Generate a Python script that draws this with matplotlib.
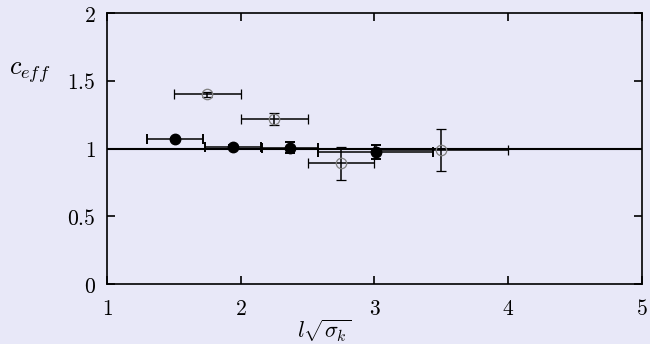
import numpy as np
import matplotlib

matplotlib.use("Agg")
import matplotlib.pyplot as plt
from matplotlib.ticker import FuncFormatter

plt.rcParams["mathtext.fontset"] = "cm"
plt.rcParams["font.family"] = "serif"
plt.rcParams["font.serif"] = ["DejaVu Serif"]

bg = "#e8e8f8"

# filled circles
x_full = [1.51, 1.94, 2.37, 3.01]
y_full = [1.07, 1.013, 1.006, 0.975]
xerr_full = [0.21, 0.21, 0.21, 0.43]
yerr_full = [0.01, 0.01, 0.04, 0.05]

# open circles
x_open = [1.75, 2.25, 2.75, 3.5]
y_open = [1.40, 1.215, 0.89, 0.99]
xerr_open = [0.25, 0.25, 0.25, 0.5]
yerr_open = [0.02, 0.045, 0.12, 0.155]

xticks = [1, 2, 3, 4, 5]
yticks = [0, 0.5, 1, 1.5, 2]

fig = plt.figure(figsize=(6.5, 3.44), dpi=100, facecolor=bg)
ax = fig.add_axes([0.1646, 0.1744, 0.8231, 0.7878], facecolor=bg)

ax.axhline(1.0, color="black", lw=1.5, zorder=1)

ax.errorbar(
    x_full,
    y_full,
    xerr=xerr_full,
    yerr=yerr_full,
    linestyle="",
    marker="o",
    ms=7.5,
    mfc="black",
    mec="black",
    color="black",
    elinewidth=1.1,
    capsize=3.8,
    capthick=1.4,
    zorder=3,
)
ax.errorbar(
    x_open,
    y_open,
    xerr=xerr_open,
    yerr=yerr_open,
    linestyle="",
    marker="o",
    ms=7.5,
    mfc="none",
    mec="#808080",
    mew=0.9,
    color="black",
    elinewidth=1.1,
    capsize=3.8,
    capthick=1.4,
    zorder=3,
)

ax.set_xlim(1, 5)
ax.set_ylim(0, 2)
ax.set_xticks(xticks)
ax.set_yticks(yticks)


def fmt(v, pos):
    return r"$%g$" % v


ax.xaxis.set_major_formatter(FuncFormatter(fmt))
ax.yaxis.set_major_formatter(FuncFormatter(fmt))
ax.tick_params(
    direction="in",
    top=True,
    right=True,
    length=6,
    width=1.2,
    labelsize=15.5,
)
ax.tick_params(axis="x", pad=10)
ax.tick_params(axis="y", pad=8)
for s in ax.spines.values():
    s.set_linewidth(1.2)

ax.set_xlabel(r"$l\sqrt{\sigma_k}$", fontsize=16)
ax.xaxis.set_label_coords(0.406, -0.125)
ax.set_ylabel(r"$c_{eff}$", fontsize=19, rotation=0, va="center")
ax.yaxis.set_label_coords(-0.145, 0.78)

fig.savefig("out.png", dpi=100, facecolor=bg)
plt.close(fig)
